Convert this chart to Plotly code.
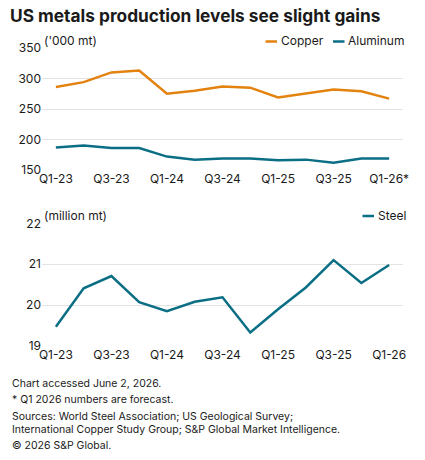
import plotly.graph_objects as go
from plotly.subplots import make_subplots

quarters = ["Q1-23", "Q2-23", "Q3-23", "Q4-23", "Q1-24", "Q2-24", "Q3-24",
            "Q4-24", "Q1-25", "Q2-25", "Q3-25", "Q4-25", "Q1-26"]
copper = [286, 294, 310, 313, 275, 280, 287, 285, 269, 275, 282, 279, 267]
aluminum = [187, 190, 186, 186, 172, 167, 169, 169, 166, 167, 162, 169, 169]
steel = [19.47, 20.41, 20.71, 20.07, 19.85, 20.08, 20.19, 19.33, 19.90,
         20.43, 21.10, 20.54, 20.98]
top_ticktext = ["Q1-23", "Q3-23", "Q1-24", "Q3-24", "Q1-25", "Q3-25", "Q1-26*"]
bot_ticktext = ["Q1-23", "Q3-23", "Q1-24", "Q3-24", "Q1-25", "Q3-25", "Q1-26"]
tickvals = [quarters[i] for i in range(0, 13, 2)]

ORANGE = "#E3820F"
TEAL = "#0A6F84"
FONT = "Inter"
TXT = "#1a1a1a"

W, H = 425, 460
ml, mr, mt, mb = 42, 22, 48, 114
ph = H - mt - mb

def fy(py):
    return 1 - (py - mt) / ph

def fx(px):
    return (px - ml) / (W - ml - mr)

fig = make_subplots(rows=2, cols=1)
fig.add_trace(go.Scatter(x=quarters, y=copper, mode="lines", name="Copper",
                         line=dict(color=ORANGE, width=2.5)), row=1, col=1)
fig.add_trace(go.Scatter(x=quarters, y=aluminum, mode="lines", name="Aluminum",
                         line=dict(color=TEAL, width=2.5)), row=1, col=1)
fig.add_trace(go.Scatter(x=quarters, y=steel, mode="lines", name="Steel",
                         line=dict(color=TEAL, width=2.5)), row=2, col=1)

axfont = dict(family=FONT, size=12, color=TXT)
xcommon = dict(type="category", range=[-0.5, 12.5], showgrid=False,
               zeroline=False, showline=False, ticks="", tickfont=axfont,
               tickvals=tickvals)
fig.update_xaxes(**xcommon, ticktext=top_ticktext, domain=[0, 1], row=1, col=1)
fig.update_xaxes(**xcommon, ticktext=bot_ticktext, domain=[0, 1], row=2, col=1)
ycommon = dict(showgrid=True, gridcolor="#e3e3e3", gridwidth=1, zeroline=False,
               showline=False, ticks="", tickfont=axfont)
fig.update_yaxes(**ycommon, range=[150, 350], tickvals=[150, 200, 250, 300, 350],
                 domain=[fy(170), 1], row=1, col=1)
fig.update_yaxes(**ycommon, range=[19, 22], tickvals=[19, 20, 21, 22],
                 domain=[0, fy(223.3)], row=2, col=1)

anns = []
shapes = []
def txt(x, y, s, size=12, anchor="left"):
    anns.append(dict(xref="paper", yref="paper", x=fx(x), y=fy(y), text=s,
                     showarrow=False, xanchor=anchor, yanchor="middle",
                     font=dict(family=FONT, size=size, color=TXT)))

txt(42, 40, "('000 mt)", 12)
txt(42, 215, "(million mt)", 12)

def swatch(x0, x1, y, color):
    shapes.append(dict(type="line", xref="paper", yref="paper",
                       x0=fx(x0), x1=fx(x1), y0=fy(y), y1=fy(y),
                       line=dict(color=color, width=2.5)))

swatch(265.5, 277, 41.5, ORANGE)
txt(278.5, 40.5, "Copper", 12)
swatch(333, 344.5, 41.5, TEAL)
txt(346, 40.5, "Aluminum", 12)
swatch(362.5, 374, 216, TEAL)
txt(375.5, 215, "Steel", 12)

fig.update_layout(
    width=W, height=H,
    margin=dict(l=ml, r=mr, t=mt, b=mb),
    paper_bgcolor="white", plot_bgcolor="white",
    showlegend=False,
    title=dict(text="<b>US metals production levels see slight gains</b>",
               x=10 / W, xanchor="left", y=1 - 16 / H, yanchor="middle",
               font=dict(family=FONT, size=17.3, color=TXT)),
    annotations=anns, shapes=shapes,
)

footer_lines = ["Chart accessed June 2, 2026.",
                "* Q1 2026 numbers are forecast.",
                "Sources: World Steel Association; US Geological Survey;",
                "International Copper Study Group; S&P Global Market Intelligence.",
                "© 2026 S&P Global."]
ys = [383.5, 399.5, 416, 429.5, 445.5]
for s, y in zip(footer_lines, ys):
    fig.add_annotation(xref="paper", yref="paper", x=fx(10), y=fy(y), text=s,
                       showarrow=False, xanchor="left", yanchor="middle",
                       font=dict(family=FONT, size=10.5, color=TXT))

fig.write_html("out.html")
